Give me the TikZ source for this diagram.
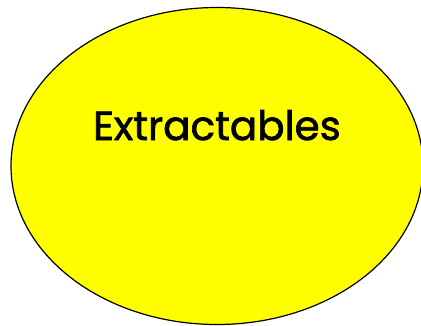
\documentclass[tikz,border=0pt]{standalone}
\usepackage{fontspec}
\newfontfamily\blobfont{Poppins}[FakeBold=1.6]
\usetikzlibrary{shapes.geometric}
\definecolor{extryellow}{RGB}{255,255,0}
\tikzset{
  blob/.style={ellipse,draw=black,line width=1.2pt,fill=extryellow,inner sep=0pt},
  blobtext/.style={inner sep=0pt,font=\blobfont\fontsize{40.5}{48}\selectfont}
}
\begin{document}
\begin{tikzpicture}[x=1pt,y=1pt]
\useasboundingbox (0,0) rectangle (421,325);
\node[blob,minimum width=412pt,minimum height=317pt] (extr) at (217,159) {};
% label sits in the upper half
\node[blobtext,anchor=base] (lbl) at ([yshift=26pt]extr.center) {Extractables};
\end{tikzpicture}
\end{document}
